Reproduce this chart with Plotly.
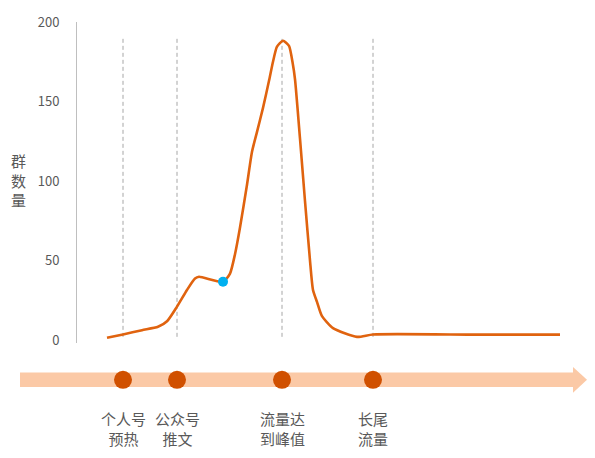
import plotly.graph_objects as go

# ---- data (x in time units, y = group count) ----
curve_x = [30, 46, 65, 81, 90, 100, 110, 118, 122, 146, 153, 158, 163, 170, 175, 180, 186, 192, 196, 200, 206,
           212, 215.7, 218, 223, 228, 233, 236, 240, 245, 256, 280, 296, 400, 483]
curve_y = [1.4, 3.5, 6.2, 8.3, 11.8, 21, 31.5, 38.7, 39.8, 36.6, 41.8, 54, 70.8, 97.7, 118.4, 130.9, 146, 163, 175, 184.5, 188.2,
           185, 174, 164, 126.7, 87.4, 50, 31.5, 24, 15, 7.5, 2, 3.5, 3.4, 3.4]
highlight_x = [146]
highlight_y = [36.6]
milestone_x = [46, 100, 205, 296]
milestone_labels = ["个人号<br>预热", "公众号<br>推文", "流量达<br>到峰值", "长尾<br>流量"]
y_ticks = [0, 50, 100, 150, 200]
y_title = "群<br>数<br>量"

FONT = "Noto Sans CJK SC, Noto Sans, sans-serif"
LINE_C = "#E0630F"
DOT_C = "#D05000"
BAND_C = "#FBC9A6"
GRAY = "#595959"

fig = go.Figure()

# dashed milestone guides
for mx in milestone_x:
    fig.add_trace(go.Scatter(x=[mx, mx], y=[2, 190], mode="lines",
                             line=dict(color="#A6A6A6", width=1, dash="4px,3px"),
                             hoverinfo="skip", showlegend=False))

fig.add_trace(go.Scatter(x=curve_x, y=curve_y, mode="lines",
                         line=dict(color=LINE_C, width=2.6, shape="spline", smoothing=0.6),
                         showlegend=False))
fig.add_trace(go.Scatter(x=highlight_x, y=highlight_y, mode="markers",
                         marker=dict(color="#00B0F0", size=10), showlegend=False))

# timeline dots
fig.add_trace(go.Scatter(x=milestone_x, y=[0] * len(milestone_x), mode="markers",
                         xaxis="x2", yaxis="y2",
                         marker=dict(color=DOT_C, size=18), showlegend=False))

# timeline arrow (band + head)
fig.add_shape(type="rect", xref="x2", yref="y2", x0=-57, x1=497, y0=-0.53, y1=0.53,
              fillcolor=BAND_C, line=dict(width=0), layer="below")
fig.add_shape(type="path", xref="x2", yref="y2",
              path="M 496,-0.93 L 510,0 L 496,0.93 Z",
              fillcolor=BAND_C, line=dict(width=0), layer="below")

for mx, lab in zip(milestone_x, milestone_labels):
    fig.add_annotation(x=mx, y=0, xref="x2", yref="y2", text=lab, showarrow=False,
                       xanchor="center", yanchor="top", yshift=-26,
                       font=dict(family=FONT, size=15, color=GRAY))

fig.add_annotation(x=-0.0018, y=0.626, xref="paper", yref="paper", text=y_title,
                   showarrow=False, xanchor="center", yanchor="middle",
                   font=dict(family=FONT, size=15, color=GRAY))

fig.update_layout(
    width=579, height=442,
    margin=dict(l=12, r=0, t=14, b=0),
    plot_bgcolor="white", paper_bgcolor="white",
    font=dict(family=FONT, color=GRAY),
    xaxis=dict(domain=[0.10053, 1], range=[0, 510], visible=False, anchor="y"),
    yaxis=dict(domain=[0.24065, 1], range=[-2, 200], tickvals=y_ticks,
               showgrid=False, zeroline=False, showline=True, linecolor="#BFBFBF",
               linewidth=1, ticks="", ticklabelstandoff=14,
               tickfont=dict(size=13, color=GRAY), anchor="x"),
    xaxis2=dict(domain=[0, 1], range=[-57, 510], visible=False, anchor="y2"),
    yaxis2=dict(domain=[0.1215, 0.1869], range=[-1, 1], visible=False, anchor="x2"),
)

fig.write_html("out.html")
